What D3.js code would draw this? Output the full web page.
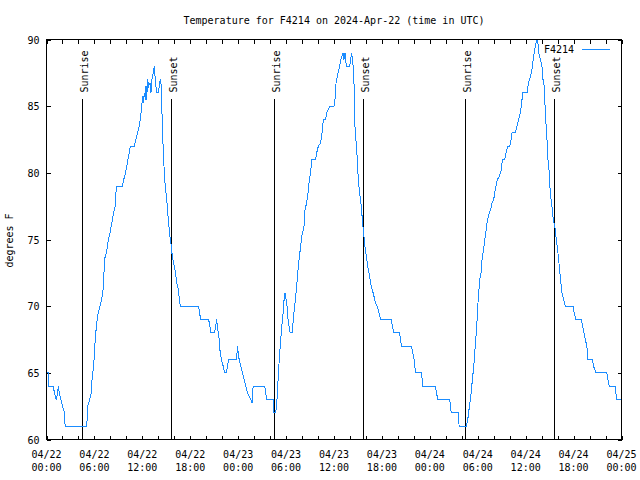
<!DOCTYPE html>
<html><head><meta charset="utf-8">
<script src="https://cdn.jsdelivr.net/npm/d3@7"></script>
<style>
html,body{margin:0;padding:0;background:#fff}
svg{display:block}
text{font-family:"DejaVu Sans Mono",monospace;font-size:10px;fill:#000}
</style>
</head><body><svg id="c" width="640" height="480"></svg>
<script>
// ---- data (hours since 2024-04-22 00:00 UTC, temperature in degrees F) ----
const hours = [
0.0,0.2,0.25,0.83,1.0,1.2,1.33,1.5,1.6,1.8,2.0,2.25,2.33,5.04,5.17,5.4,5.6,5.7,5.9,6.0,
6.1,6.25,6.4,6.6,6.9,7.1,7.2,7.25,7.5,7.75,7.95,8.2,8.4,8.6,8.75,9.5,9.67,9.9,10.2,10.5,
11.0,11.2,11.4,11.6,11.75,11.875,12.04,12.125,12.25,12.375,12.46,12.54,12.67,12.8,12.96,13.08,13.2,13.375,13.5,13.625,
13.7,13.8,14.0,14.125,14.25,14.375,14.46,14.625,14.8,14.96,15.125,15.25,15.375,15.5,15.625,15.75,15.9,16.08,16.2,16.3,
16.5,16.6,16.75,19.04,19.17,19.3,20.3,20.46,20.6,21.04,21.2,21.3,21.4,21.5,21.625,21.75,21.9,22.125,22.3,22.5,
22.67,22.8,23.8,23.92,24.0,24.125,24.33,24.54,24.75,24.96,25.17,25.375,25.58,25.75,25.875,27.33,27.46,27.54,28.375,28.42,
28.7,28.83,28.92,29.04,29.2,29.33,29.46,29.625,29.75,29.875,30.0,30.125,30.25,30.375,30.5,30.8,30.92,31.08,31.2,31.33,
31.42,31.54,31.67,31.83,31.96,32.08,32.25,32.375,32.58,32.75,32.92,33.08,33.2,33.7,33.83,34.04,34.33,34.5,34.67,34.96,
35.08,35.5,36.0,36.125,36.2,36.33,36.5,36.7,36.875,37.125,37.25,37.375,37.54,37.96,38.08,38.2,38.33,38.46,38.54,38.625,
38.8,38.92,39.04,39.2,39.33,39.46,39.54,39.67,39.79,39.875,40.04,40.17,40.29,40.46,40.58,40.79,41.0,41.2,41.42,41.625,
41.83,43.2,43.29,43.5,44.2,44.33,44.46,45.7,45.875,46.04,46.2,46.96,47.125,48.7,48.83,49.0,50.5,50.67,51.54,51.67,
52.58,52.75,52.96,53.17,53.33,53.5,53.625,53.75,53.875,54.0,54.125,54.25,54.42,54.54,54.67,54.83,55.0,55.17,55.29,55.46,
55.625,55.79,56.0,56.125,56.29,56.46,56.7,56.96,57.08,57.375,57.54,57.75,58.0,58.17,58.29,58.7,58.92,59.125,59.33,59.46,
59.625,60.17,60.29,60.46,60.625,60.79,61.0,61.2,61.42,61.5,61.625,61.83,62.04,62.17,62.33,62.46,62.67,62.79,62.96,63.08,
63.29,63.46,63.71,63.83,64.0,64.125,64.25,64.375,64.54,64.75,64.96,65.92,66.08,66.29,66.96,67.125,67.29,67.46,67.67,67.79,
68.375,68.5,68.79,70.17,70.29,70.46,71.21,71.29,71.42,72.0
];
const tempF = [
65,65,64,64,63.5,63,63.3,64,63.5,63,62.5,62,61,61,62.5,63,63.5,64.5,65.5,66.5,
67.5,68.5,69.3,69.8,70.5,71.3,72.5,73.5,74,75,75.5,76.3,77,77.5,79,79,79.5,80,81,82,
82,82.5,83,83.5,84,84.75,85.75,85.25,86,85.5,86.5,85.5,87,86.5,86.75,86,87,87.5,88,87,
86.5,86,86,86.5,87,86.5,84.5,81.5,79.5,78.5,77.5,76.5,75.75,75,74.5,73.75,73.25,72.75,72.25,71.75,
71.25,70.75,70,70,69.5,69,69,68.5,68,68,68.5,69,68.5,68,67.5,66.5,66,65.5,65,65,
65.5,66,66,67,66.5,66,65.5,65,64.5,64,63.5,63.25,63,62.75,64,64,63.5,63,63,62,
62,62.75,63.5,65,66.5,67.5,68.5,69.5,70.5,71,70.5,70,69,68.5,68,68,69.25,70,70.75,71.5,
72.25,73,73.75,74.5,75.25,75.5,76,77.25,77.75,78.5,79.5,80,81,81,81.5,82,82.25,83,84,84,
84.5,85,85,85.5,86.5,87,87.5,88,88.5,89,88.5,89,88,88,88.5,89,88.5,87.5,86,83.5,
82,81,79.5,78.5,78,77.25,76.5,75.75,75,74.5,73.75,73.25,72.75,72.25,71.75,71.25,70.75,70.25,70,69.5,
69,69,68.5,68,68,67.5,67,67,66.5,66,65,65,64,64,63.5,63,63,62,62,61,
61,61.5,62.5,63.5,64.5,65.5,66.5,67.5,68.5,70,71,72,72.5,73.5,74,74.75,75.5,76.25,76.6,77,
77.25,77.75,78,78.5,79,79.5,79.75,80.25,81,81,81.5,82,82,82.5,83,83,83.5,84,84.5,85,
86,86,86.5,87,87.25,87.75,88.75,89.5,90,90,89,88.5,88,87,86.5,84.5,82.5,81,80,78.5,
77.5,76.5,75.75,75,74.25,73.5,72.75,72,71,70.5,70,70,69.5,69,69,68.5,68,67.5,67,66,
66,65.5,65,65,64.5,64,64,63.5,63,63
];
const seriesName = "F4214";
const sunLabels = ["Sunrise","Sunset","Sunrise","Sunset","Sunrise","Sunset"];
const sunTimes = ["2024-04-22T04:31Z","2024-04-22T15:39Z","2024-04-23T04:33Z","2024-04-23T15:41Z","2024-04-24T04:28Z","2024-04-24T15:37Z"];
const yTicks = [60,65,70,75,80,85,90];
const xTickDays = ["04/22","04/22","04/22","04/22","04/23","04/23","04/23","04/23","04/24","04/24","04/24","04/24","04/25"];
const xTickClock = ["00:00","06:00","12:00","18:00","00:00","06:00","12:00","18:00","00:00","06:00","12:00","18:00","00:00"];
const titleText = "Temperature for F4214 on 2024-Apr-22 (time in UTC)";
const yTitleText = "degrees F";

// ---- layout ----
const L = 46.5, R = 621.5, T = 39.5, B = 439.5;
const t0 = Date.UTC(2024, 3, 22), t1 = Date.UTC(2024, 3, 25);
const x = d3.scaleUtc().domain([t0, t1]).range([L, R]);
const y = d3.scaleLinear().domain([60, 90]).range([B, T]);
const svg = d3.select("#c");
const lineColor = "#1a8cff";

const series = hours.map((h, i) => ({t: new Date(t0 + h * 3600e3), v: tempF[i]}));

svg.append("defs").append("clipPath").attr("id", "clip")
  .append("rect").attr("x", L).attr("y", T - 1).attr("width", R - L).attr("height", B - T + 1);

// ticks via d3 axes (inward)
const minorTicks = d3.range(0, 37).map(k => new Date(t0 + k * 2 * 3600e3));
const crisp = g => g.selectAll("line").attr("shape-rendering", "crispEdges").attr("stroke", "#000");
const bottomAx = svg.append("g").attr("transform", `translate(0,${B})`)
  .call(d3.axisBottom(x).tickValues(minorTicks).tickSizeInner(-4).tickSizeOuter(0).tickFormat(""));
const topAx = svg.append("g").attr("transform", `translate(0,${T})`)
  .call(d3.axisTop(x).tickValues(minorTicks).tickSizeInner(-4).tickSizeOuter(0).tickFormat(""));
const leftAx = svg.append("g").attr("transform", `translate(${L},0)`)
  .call(d3.axisLeft(y).tickValues(yTicks).tickSizeInner(-4).tickSizeOuter(0).tickFormat(""));
const rightAx = svg.append("g").attr("transform", `translate(${R},0)`)
  .call(d3.axisRight(y).tickValues(yTicks).tickSizeInner(-4).tickSizeOuter(0).tickFormat(""));
[bottomAx, topAx, leftAx, rightAx].forEach(g => { g.select(".domain").remove(); g.call(crisp); g.selectAll("text").remove(); });

// y tick labels
svg.append("g").selectAll("text").data(yTicks).join("text")
  .attr("x", 39.5).attr("y", d => y(d) + 4).attr("text-anchor", "end").text(d => d);

// x tick labels (two lines)
const majorDates = d3.range(0, 13).map(k => new Date(t0 + k * 6 * 3600e3));
const xl = svg.append("g").selectAll("text").data(majorDates).join("text")
  .attr("text-anchor", "middle");
xl.append("tspan").attr("x", d => x(d)).attr("y", 458).text((d, i) => xTickDays[i]);
xl.append("tspan").attr("x", d => x(d)).attr("y", 471).text((d, i) => xTickClock[i]);

// sunrise / sunset markers
const sun = svg.append("g");
sunTimes.forEach((s, i) => {
  const sx = x(new Date(s));
  sun.append("line").attr("x1", sx).attr("x2", sx).attr("y1", 98.5).attr("y2", B)
    .attr("stroke", "#000").attr("stroke-width", 1).attr("shape-rendering", "crispEdges");
  sun.append("text").attr("transform", `translate(${sx + 5.5},92.5) rotate(-90)`)
    .attr("text-anchor", "start").text(sunLabels[i]);
});

// data line
svg.append("path").datum(series)
  .attr("clip-path", "url(#clip)")
  .attr("fill", "none").attr("stroke", lineColor).attr("stroke-width", 1)
  .attr("shape-rendering", "crispEdges")
  .attr("d", d3.line().x(d => x(d.t)).y(d => y(d.v)));

// frame
svg.append("rect").attr("x", L).attr("y", T).attr("width", R - L).attr("height", B - T)
  .attr("fill", "none").attr("stroke", "#000").attr("shape-rendering", "crispEdges");

// legend
svg.append("text").attr("x", 574).attr("y", 53).attr("text-anchor", "end").text(seriesName);
svg.append("line").attr("x1", 582).attr("x2", 610).attr("y1", 49.5).attr("y2", 49.5)
  .attr("stroke", lineColor).attr("shape-rendering", "crispEdges");

// titles
svg.append("text").attr("x", (L + R) / 2).attr("y", 24).attr("text-anchor", "middle").text(titleText);
svg.append("text").attr("transform", "translate(13,240.5) rotate(-90)").attr("text-anchor", "middle").text(yTitleText);
</script>
</body></html>
